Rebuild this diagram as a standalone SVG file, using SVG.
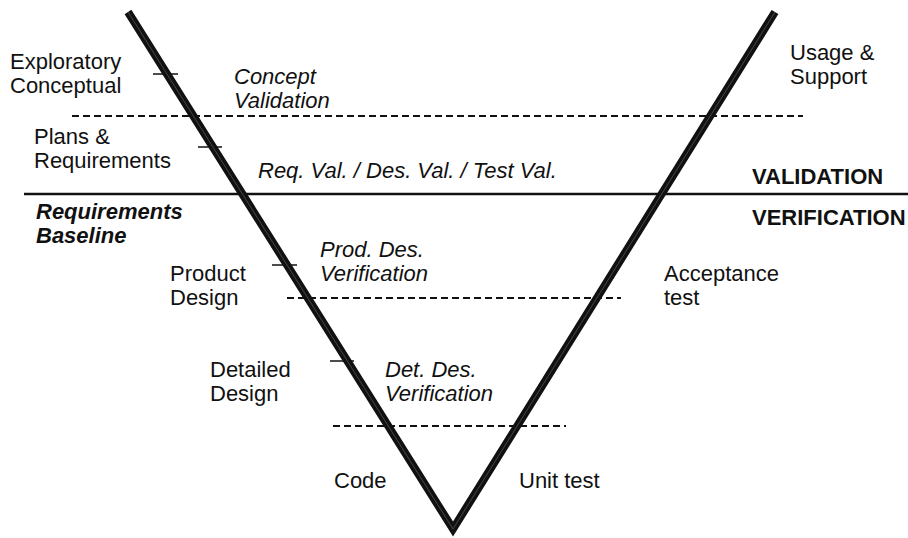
<svg xmlns="http://www.w3.org/2000/svg" width="908" height="538" viewBox="0 0 908 538">
<style>
text{font-family:"Liberation Sans",Arial,sans-serif;font-size:22px;fill:#111}
.i{font-style:italic}
.b{font-weight:bold}
.dash{stroke:#111;stroke-width:1.8;stroke-dasharray:7 4;fill:none}
.tick{stroke:#111;stroke-width:1.5}
</style>
<rect width="908" height="538" fill="#fff"/>
<g id="connectors">
<line class="dash" x1="72" y1="116" x2="803" y2="116"/>
<line class="dash" x1="287" y1="298" x2="621" y2="298"/>
<line class="dash" x1="333" y1="426" x2="566" y2="426"/>
<line x1="24" y1="194" x2="908" y2="194" stroke="#111" stroke-width="2.5"/>
<line class="tick" x1="153" y1="74" x2="178" y2="74"/>
<line class="tick" x1="198" y1="147" x2="222" y2="147"/>
<line class="tick" x1="272" y1="265" x2="297" y2="265"/>
<line class="tick" x1="330" y1="361" x2="354" y2="361"/>
</g>
<g id="v-shape">
<polyline points="128,12 453,529 775,12" fill="none" stroke="#111" stroke-width="8" stroke-linejoin="miter" stroke-miterlimit="10"/>
<polyline points="128,12 453,529 775,12" fill="none" stroke="#555" stroke-width="0.8"/>
</g>
<g id="exploratory"><text x="10" y="69">Exploratory</text><text x="10" y="93">Conceptual</text></g>
<g id="concept-validation"><text class="i" x="234" y="84">Concept</text><text class="i" x="234" y="108">Validation</text></g>
<g id="usage"><text x="790" y="60">Usage &amp;</text><text x="790" y="84">Support</text></g>
<g id="plans"><text x="34" y="144">Plans &amp;</text><text x="34" y="168">Requirements</text></g>
<g id="req-val"><text class="i" x="258" y="178">Req. Val. / Des. Val. / Test Val.</text></g>
<g id="validation"><text class="b" x="752" y="184">VALIDATION</text></g>
<g id="verification"><text class="b" x="752" y="225">VERIFICATION</text></g>
<g id="baseline"><text class="b i" x="36" y="219">Requirements</text><text class="b i" x="36" y="243">Baseline</text></g>
<g id="product-design"><text x="170" y="281">Product</text><text x="170" y="305">Design</text></g>
<g id="prod-des-ver"><text class="i" x="320" y="257">Prod. Des.</text><text class="i" x="320" y="281">Verification</text></g>
<g id="acceptance"><text x="664" y="281">Acceptance</text><text x="664" y="305">test</text></g>
<g id="detailed-design"><text x="210" y="377">Detailed</text><text x="210" y="401">Design</text></g>
<g id="det-des-ver"><text class="i" x="385" y="377">Det. Des.</text><text class="i" x="385" y="401">Verification</text></g>
<g id="code"><text x="334" y="488">Code</text></g>
<g id="unit-test"><text x="519" y="488">Unit test</text></g>
</svg>
